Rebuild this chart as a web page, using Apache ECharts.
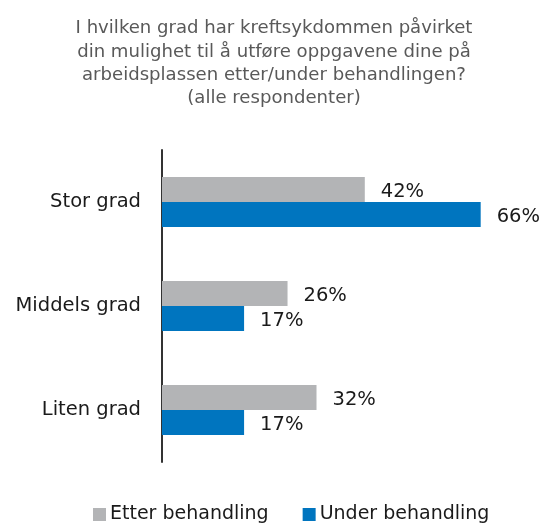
<!DOCTYPE html>
<html>
<head>
<meta charset="utf-8">
<script src="https://cdn.jsdelivr.net/npm/echarts@6/dist/echarts.min.js"></script>
<style>
html,body{margin:0;padding:0;background:#fff;}
#chart{width:545px;height:523px;}
</style>
</head>
<body>
<div id="chart"></div>
<script>
var titleText = 'I hvilken grad har kreftsykdommen påvirket\ndin mulighet til å utføre oppgavene dine på\narbeidsplassen etter/under behandlingen?\n(alle respondenter)';
var categories = ['Stor grad', 'Middels grad', 'Liten grad'];
var seriesNames = ['Etter behandling', 'Under behandling'];
var etterValues = [42, 26, 32];
var underValues = [66, 17, 17];

var FONT = 'DejaVu Sans';
var chart = echarts.init(document.getElementById('chart'), null, {renderer: 'canvas'});
chart.setOption({
  backgroundColor: '#ffffff',
  animation: false,
  title: {
    text: titleText,
    left: 274,
    top: 17,
    padding: 0,
    textAlign: 'center',
    textStyle: {fontFamily: FONT, fontSize: 18.1, fontWeight: 'normal', color: '#595959', lineHeight: 23.3, align: 'center'}
  },
  legend: {
    data: seriesNames,
    top: 505,
    left: 93,
    padding: 0,
    icon: 'rect',
    itemWidth: 13,
    itemHeight: 13,
    itemGap: 34,
    textStyle: {fontFamily: FONT, fontSize: 19, color: '#1a1a1a', padding: [0, 0, 0, -1]}
  },
  grid: {left: 162, top: 150, height: 312, right: 45, containLabel: false},
  xAxis: {
    type: 'value', min: 0, max: 70, show: false, splitLine: {show: false}
  },
  yAxis: {
    type: 'category',
    data: categories,
    inverse: true,
    axisLine: {show: true, lineStyle: {color: '#333333', width: 2}},
    axisTick: {show: false},
    axisLabel: {fontFamily: FONT, fontSize: 19.5, color: '#1a1a1a', margin: 21}
  },
  series: [
    {
      name: seriesNames[0], type: 'bar', data: etterValues,
      barWidth: 25, barGap: '0%',
      itemStyle: {color: '#B3B4B6'},
      label: {show: true, position: 'right', distance: 16, formatter: '{c}%', fontFamily: FONT, fontSize: 19.5, color: '#1a1a1a', offset: [0, 2]}
    },
    {
      name: seriesNames[1], type: 'bar', data: underValues,
      barWidth: 25, barGap: '0%',
      itemStyle: {color: '#0075BF'},
      label: {show: true, position: 'right', distance: 16, formatter: '{c}%', fontFamily: FONT, fontSize: 19.5, color: '#1a1a1a', offset: [0, 2]}
    }
  ]
});
</script>
</body>
</html>
